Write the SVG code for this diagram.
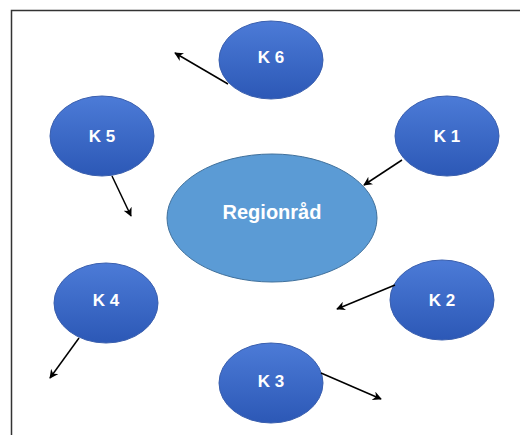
<svg xmlns="http://www.w3.org/2000/svg" width="520" height="435" viewBox="0 0 520 435">
<style>
.k{fill:url(#kg);stroke:#3a5fae;stroke-width:1}
.kt{font-family:"Liberation Sans",Arial,sans-serif;font-weight:bold;font-size:17px;fill:#ffffff;text-anchor:middle;dominant-baseline:central}
.rt{font-family:"Liberation Sans",Arial,sans-serif;font-weight:bold;font-size:20px;fill:#ffffff;text-anchor:middle;dominant-baseline:central}
.c{stroke:#000;stroke-width:1.5;fill:none;marker-end:url(#ah)}
</style>
<defs>
<linearGradient id="kg" x1="0" y1="0" x2="0" y2="1">
<stop offset="0" stop-color="#4c7bd7"/>
<stop offset="1" stop-color="#2c58b6"/>
</linearGradient>
<marker id="ah" viewBox="0 0 10 10" refX="9" refY="5" markerWidth="9" markerHeight="9" markerUnits="userSpaceOnUse" orient="auto">
<path d="M0,0 L10,5 L0,10 L3,5 Z" fill="#000"/>
</marker>
</defs>
<rect width="520" height="435" fill="#ffffff"/>
<path d="M11.5,436 V10.5 H521" fill="none" stroke="#333" stroke-width="1.5"/>
<g id="regionrad">
<ellipse cx="272" cy="218" rx="105" ry="64" fill="#5b9bd5" stroke="#41719c" stroke-width="1"/>
<text class="rt" x="272" y="212">Regionråd</text>
</g>
<g id="k6"><ellipse class="k" cx="271" cy="60" rx="52" ry="39"/><text class="kt" x="271" y="57">K 6</text></g>
<g id="k5"><ellipse class="k" cx="102" cy="136" rx="52" ry="40"/><text class="kt" x="102" y="136">K 5</text></g>
<g id="k1"><ellipse class="k" cx="447" cy="136" rx="52" ry="40"/><text class="kt" x="447" y="136">K 1</text></g>
<g id="k4"><ellipse class="k" cx="106" cy="303" rx="52" ry="40"/><text class="kt" x="106" y="300">K 4</text></g>
<g id="k2"><ellipse class="k" cx="442" cy="300" rx="52" ry="40"/><text class="kt" x="442" y="300">K 2</text></g>
<g id="k3"><ellipse class="k" cx="271" cy="383" rx="52" ry="40"/><text class="kt" x="271" y="381">K 3</text></g>
<g id="connectors">
<line class="c" x1="228" y1="84" x2="175" y2="53"/>
<line class="c" x1="112" y1="176" x2="131" y2="216"/>
<line class="c" x1="402" y1="160" x2="364" y2="185"/>
<line class="c" x1="395" y1="285" x2="337" y2="309"/>
<line class="c" x1="79" y1="338" x2="50" y2="378"/>
<line class="c" x1="321" y1="373" x2="381" y2="399"/>
</g>
</svg>
